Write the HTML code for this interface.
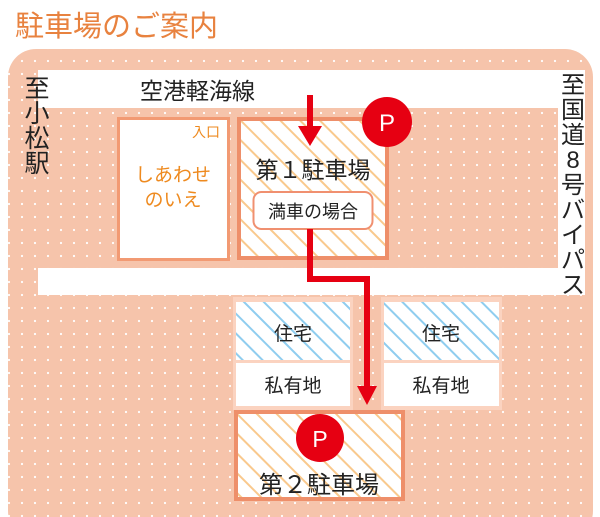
<!DOCTYPE html>
<html><head><meta charset="utf-8"><style>
html,body{margin:0;padding:0;background:#fff;width:600px;height:517px;overflow:hidden}
svg text{font-family:"Liberation Sans","Noto Sans CJK JP",sans-serif}
</style></head><body>
<svg width="600" height="517" viewBox="0 0 600 517" xmlns="http://www.w3.org/2000/svg">
<defs>
<pattern id="dots" width="13" height="13" patternUnits="userSpaceOnUse" x="3" y="3">
<rect width="13" height="13" fill="#f6c4ab"/><circle cx="6" cy="6" r="1.1" fill="#fff"/>
</pattern>
<pattern id="ohatch" width="14" height="14" patternUnits="userSpaceOnUse" patternTransform="rotate(-45)">
<rect width="14" height="14" fill="#fff"/><rect width="2" height="14" fill="#f9c98d"/>
</pattern>
<pattern id="bhatch" width="14" height="14" patternUnits="userSpaceOnUse" patternTransform="rotate(-45)">
<rect width="14" height="14" fill="#fff"/><rect width="2" height="14" fill="#8fcdef"/>
</pattern>
</defs>
<text x="15" y="36" font-size="29" fill="#e8823f">駐車場のご案内</text>
<rect x="8" y="49" width="585" height="490" rx="28" fill="url(#dots)"/>
<rect x="38" y="70" width="547" height="38" fill="#fff"/>
<rect x="558" y="70" width="27" height="225" fill="#fff"/>
<rect x="38" y="268" width="547" height="27" fill="#fff"/>
<text x="140" y="99" font-size="23" fill="#222">空港軽海線</text>
<g font-size="25" fill="#222" text-anchor="middle">
<text x="37" y="97">至</text><text x="37" y="122">小</text><text x="37" y="147">松</text><text x="37" y="172">駅</text>
</g>
<g font-size="24" fill="#222" text-anchor="middle">
<text x="573" y="93">至</text><text x="573" y="118">国</text><text x="573" y="143">道</text><text x="573" y="168">8</text><text x="573" y="193">号</text><text x="573" y="218">バ</text><text x="573" y="243">イ</text><text x="573" y="268">パ</text><text x="573" y="293">ス</text>
</g>
<rect x="118.5" y="118.5" width="110" height="141" fill="#fff" stroke="#f29a73" stroke-width="3"/>
<text x="220" y="137" font-size="14" fill="#ee8a1f" text-anchor="end">入口</text>
<text x="173" y="181" font-size="19" fill="#ee8a1f" text-anchor="middle">しあわせ</text>
<text x="173" y="206" font-size="19" fill="#ee8a1f" text-anchor="middle">のいえ</text>
<rect x="239" y="119" width="148" height="139" fill="url(#ohatch)" stroke="#ee8f6a" stroke-width="4"/>
<text x="313" y="178" font-size="23" fill="#222" text-anchor="middle">第１駐車場</text>
<rect x="253.5" y="192" width="119" height="37" rx="8" fill="#fff" stroke="#f09070" stroke-width="2"/>
<text x="313" y="218" font-size="18" fill="#222" text-anchor="middle">満車の場合</text>
<circle cx="387" cy="122" r="25" fill="#e60012"/>
<text x="387" y="131" font-size="24" fill="#fff" text-anchor="middle">P</text>
<rect x="307" y="95" width="6" height="33" fill="#e60012"/>
<polygon points="298,126 322,126 310,146" fill="#e60012"/>
<rect x="233" y="297" width="120" height="113" fill="#fbd3c0"/>
<rect x="236" y="302" width="114" height="58" fill="url(#bhatch)"/>
<rect x="236" y="363" width="114" height="43" fill="#fff"/>
<text x="293" y="340" font-size="19" fill="#222" text-anchor="middle">住宅</text>
<text x="293" y="392" font-size="19" fill="#222" text-anchor="middle">私有地</text>
<rect x="381" y="297" width="121" height="113" fill="#fbd3c0"/>
<rect x="384" y="302" width="115" height="58" fill="url(#bhatch)"/>
<rect x="384" y="363" width="115" height="43" fill="#fff"/>
<text x="441" y="340" font-size="19" fill="#222" text-anchor="middle">住宅</text>
<text x="441" y="392" font-size="19" fill="#222" text-anchor="middle">私有地</text>
<polyline points="310,229 310,279 367,279 367,388" fill="none" stroke="#e60012" stroke-width="6"/>
<polygon points="357,386 377,386 367,405" fill="#e60012"/>
<rect x="236" y="412" width="167" height="87" fill="url(#ohatch)" stroke="#ee8f6a" stroke-width="4"/>
<circle cx="320" cy="438" r="24" fill="#e60012"/>
<text x="320" y="447" font-size="23" fill="#fff" text-anchor="middle">P</text>
<text x="319" y="493" font-size="24" fill="#222" text-anchor="middle">第２駐車場</text>
</svg>
</body></html>
